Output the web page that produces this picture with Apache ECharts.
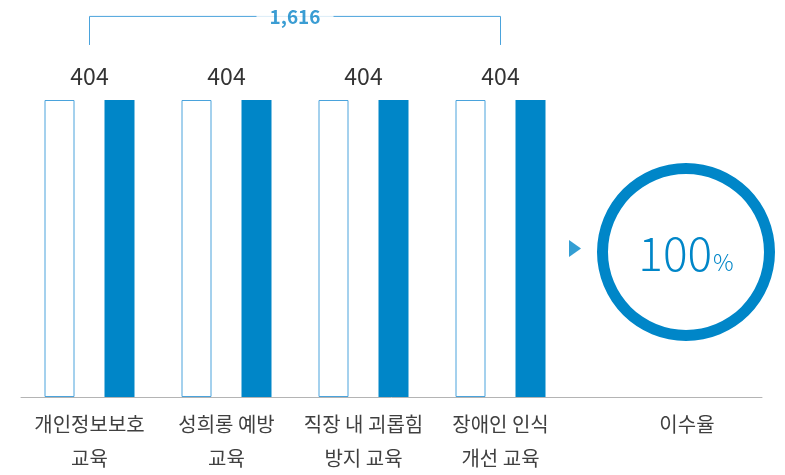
<!DOCTYPE html>
<html>
<head>
<meta charset="utf-8">
<script src="https://cdn.jsdelivr.net/npm/echarts@6/dist/echarts.min.js"></script>
<style>
html,body{margin:0;padding:0;background:#fff;}
#chart{width:785px;height:475px;}
</style>
</head>
<body>
<div id="chart"></div>
<script>
// ---- data ----
var categories = ['개인정보보호\n교육', '성희롱 예방\n교육', '직장 내 괴롭힘\n방지 교육', '장애인 인식\n개선 교육'];
var targetValues = [404, 404, 404, 404];     // hollow bars
var completedValues = [404, 404, 404, 404];  // filled bars
var rateLabel = '이수율';
var completionRate = 100;

// ---- layout helpers ----
var FONT = '"Noto Sans CJK KR", "Noto Sans", sans-serif';
var BLUE = '#0086c8';
var LIGHT = '#4aa3dc';
var catPos = categories.map(function (c, i) { return i + 0.5; });
var ratePos = 4.861;
var xMax = 741 / 137;
var yMax = Math.max.apply(null, completedValues.concat(targetValues));
var total = completedValues.reduce(function (a, b) { return a + b; }, 0);
var bracketTop = yMax * 1.2815;
var bracketBottom = yMax * 1.1853;

var labelValues = catPos.concat([ratePos]);
var labelTexts = categories.concat([rateLabel]);

var chart = echarts.init(document.getElementById('chart'));
chart.setOption({
  animation: false,
  textStyle: { fontFamily: FONT },
  grid: { left: 21, right: 23, top: 100, bottom: 73 },
  xAxis: {
    type: 'value', min: 0, max: xMax,
    splitLine: { show: false },
    axisTick: { show: false },
    axisLine: { show: true, lineStyle: { color: '#b4b4b4', width: 1 } },
    axisLabel: {
      customValues: labelValues,
      margin: 10,
      fontSize: 20, lineHeight: 34, color: '#404040', fontFamily: FONT,
      formatter: function (v) {
        var best = 0, d = 1e9;
        for (var i = 0; i < labelValues.length; i++) {
          var dd = Math.abs(labelValues[i] - v);
          if (dd < d) { d = dd; best = i; }
        }
        return labelTexts[best];
      }
    }
  },
  yAxis: { type: 'value', min: 0, max: yMax, show: false, splitLine: { show: false } },
  series: [
    {
      type: 'bar', barWidth: 30, barGap: '100%',
      data: targetValues.map(function (v, i) { return [catPos[i], v]; }),
      itemStyle: { color: '#fff', borderColor: LIGHT, borderWidth: 1 },
      silent: true
    },
    {
      type: 'bar', barWidth: 30, barGap: '100%',
      data: completedValues.map(function (v, i) { return [catPos[i], v]; }),
      itemStyle: { color: BLUE },
      label: {
        show: true, position: 'top', distance: 11, offset: [-30, 0],
        fontSize: 23, lineHeight: 26, color: '#333', fontFamily: FONT,
        formatter: function (p) { return p.value[1]; }
      },
      silent: true
    },
    {
      type: 'line', clip: false, symbol: 'none', silent: true,
      lineStyle: { color: LIGHT, width: 1 },
      data: [[catPos[0], bracketBottom], [catPos[0], bracketTop], [catPos[3], bracketTop], [catPos[3], bracketBottom]],
      z: 3
    },
    {
      type: 'scatter', clip: false, silent: true, symbolSize: 1,
      itemStyle: { color: 'rgba(0,0,0,0)' },
      data: [[(catPos[0] + catPos[3]) / 2, bracketTop]],
      label: {
        show: true, position: 'inside',
        formatter: function () { return total.toLocaleString('en-US'); },
        fontSize: 19, color: '#0a84c8', fontWeight: 'bold', fontFamily: FONT,
        backgroundColor: '#fff', padding: [2, 13]
      },
      z: 5
    },
    {
      type: 'scatter', clip: false, silent: true,
      symbol: 'triangle', symbolSize: [17, 12], symbolRotate: -90,
      itemStyle: { color: BLUE },
      data: [[4.044, yMax / 2]]
    },
    {
      type: 'pie', silent: true, center: [686, 252], radius: [78, 89],
      startAngle: 90, clockwise: true,
      itemStyle: { color: BLUE },
      emphasis: { disabled: true },
      labelLine: { show: false },
      label: {
        show: true, position: 'center',
        formatter: function () { return '{n|' + completionRate + '}{p|%}'; },
        rich: {
          n: { fontSize: 46, color: BLUE, fontFamily: FONT, fontWeight: 300, lineHeight: 50, verticalAlign: 'bottom' },
          p: { fontSize: 23, color: BLUE, fontFamily: FONT, fontWeight: 300, lineHeight: 42, verticalAlign: 'bottom', padding: [0, 0, 3, 1] }
        }
      },
      data: [{ value: completionRate, name: rateLabel }]
    }
  ]
});
</script>
</body>
</html>
